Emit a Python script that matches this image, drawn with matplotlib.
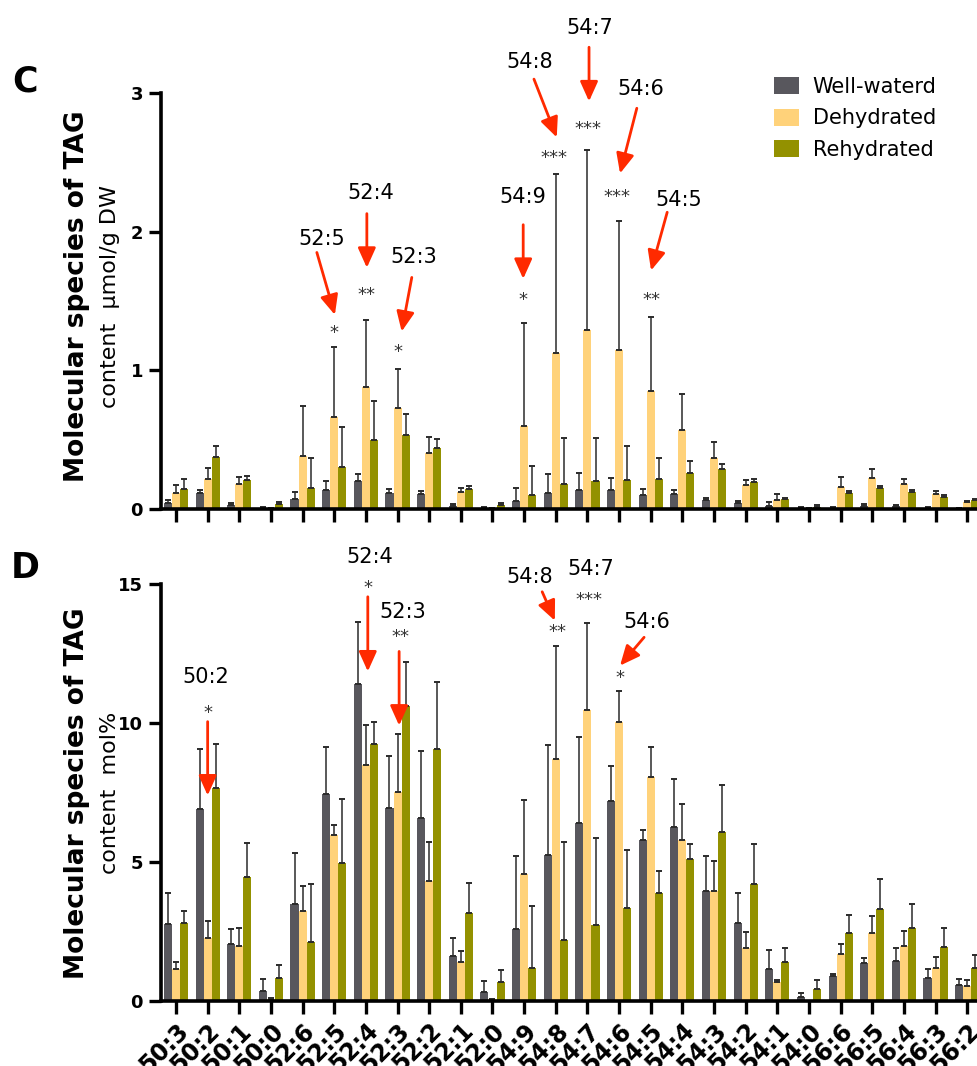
import matplotlib.pyplot as plt
import numpy as np
from matplotlib.patches import Patch

species = ["50:3", "50:2", "50:1", "50:0", "52:6", "52:5", "52:4", "52:3", "52:2",
           "52:1", "52:0", "54:9", "54:8", "54:7", "54:6", "54:5", "54:4", "54:3",
           "54:2", "54:1", "54:0", "56:6", "56:5", "56:4", "56:3", "56:2"]
groups = ["Well-waterd", "Dehydrated", "Rehydrated"]

# panel C: content (umol/g DW), mean and SD
c_well = [0.045, 0.115, 0.03, 0.01, 0.075, 0.14, 0.2, 0.115, 0.11, 0.025, 0.01, 0.06, 0.115,
          0.14, 0.14, 0.1, 0.11, 0.065, 0.045, 0.02, 0.01, 0.01, 0.022, 0.022, 0.01, 0.007]
c_well_sd = [0.02, 0.02, 0.01, 0.006, 0.05, 0.06, 0.05, 0.027, 0.02, 0.009, 0.005, 0.09, 0.14,
             0.12, 0.08, 0.044, 0.024, 0.014, 0.012, 0.028, 0.008, 0.007, 0.014, 0.007, 0.004, 0.003]
c_dehy = [0.115, 0.215, 0.18, 0.004, 0.38, 0.66, 0.88, 0.73, 0.405, 0.123, 0.005, 0.6, 1.125,
          1.29, 1.146, 0.851, 0.57, 0.368, 0.171, 0.065, 0.003, 0.159, 0.224, 0.18, 0.108, 0.053]
c_dehy_sd = [0.055, 0.078, 0.05, 0.006, 0.366, 0.51, 0.486, 0.28, 0.113, 0.028, 0.005, 0.74, 1.29,
             1.30, 0.93, 0.536, 0.26, 0.117, 0.036, 0.041, 0.004, 0.074, 0.067, 0.034, 0.019, 0.005]
c_rehy = [0.146, 0.375, 0.211, 0.036, 0.151, 0.303, 0.497, 0.534, 0.44, 0.144, 0.029, 0.101, 0.18,
          0.202, 0.211, 0.216, 0.26, 0.288, 0.195, 0.07, 0.014, 0.115, 0.151, 0.123, 0.087, 0.065]
c_rehy_sd = [0.068, 0.077, 0.025, 0.012, 0.214, 0.288, 0.279, 0.153, 0.067, 0.024, 0.012, 0.207, 0.332,
             0.312, 0.246, 0.154, 0.088, 0.036, 0.019, 0.007, 0.012, 0.012, 0.017, 0.012, 0.012, 0.008]

# panel D: content (mol%), mean and SD
d_well = [2.75, 6.9, 2.03, 0.34, 3.47, 7.46, 11.42, 6.92, 6.58, 1.6, 0.31, 2.57, 5.23,
          6.41, 7.18, 5.77, 6.24, 3.94, 2.79, 1.13, 0.13, 0.88, 1.35, 1.42, 0.81, 0.57]
d_well_sd = [1.11, 2.17, 0.53, 0.45, 1.85, 1.68, 2.21, 1.89, 2.42, 0.64, 0.4, 2.64, 3.98,
             3.08, 1.27, 0.39, 1.75, 1.25, 1.1, 0.7, 0.15, 0.09, 0.18, 0.49, 0.33, 0.22]
d_dehy = [1.13, 2.25, 1.96, 0.06, 3.22, 5.96, 8.47, 7.5, 4.3, 1.37, 0.05, 4.55, 8.71,
          10.47, 10.05, 8.04, 5.77, 3.94, 1.89, 0.65, 0.0, 1.67, 2.43, 1.96, 1.18, 0.53]
d_dehy_sd = [0.24, 0.63, 0.66, 0.03, 0.89, 0.35, 1.45, 2.12, 1.43, 0.43, 0.02, 2.66, 4.08,
             3.14, 1.12, 1.11, 1.32, 1.1, 0.57, 0.1, 0.0, 0.37, 0.62, 0.56, 0.37, 0.2]
d_rehy = [2.79, 7.66, 4.44, 0.8, 2.1, 4.95, 9.26, 10.62, 9.08, 3.14, 0.67, 1.17, 2.18,
          2.72, 3.33, 3.87, 5.09, 6.06, 4.19, 1.38, 0.41, 2.43, 3.29, 2.61, 1.94, 1.18]
d_rehy_sd = [0.44, 1.6, 1.24, 0.49, 2.11, 2.32, 0.79, 1.57, 2.4, 1.1, 0.44, 2.25, 3.53,
             3.15, 2.11, 0.8, 0.55, 1.69, 1.45, 0.51, 0.32, 0.66, 1.1, 0.87, 0.66, 0.45]

# significance marks: label, label pos, stars, stars pos, arrow (start, end)
c_marks = [
    ("52:5", (4.61, 1.95), "*", (5.0, 1.27), ((4.45, 1.85), (5.02, 1.40))),
    ("52:4", (6.15, 2.28), "**", (6.03, 1.54), ((6.03, 2.13), (6.03, 1.74))),
    ("52:3", (7.52, 1.82), "*", (7.02, 1.13), ((7.45, 1.67), (7.13, 1.28))),
    ("54:9", (10.97, 2.25), "*", (10.97, 1.51), ((10.97, 2.05), (10.97, 1.66))),
    ("54:8", (11.18, 3.22), "***", (11.94, 2.53), ((11.31, 3.10), (12.03, 2.68))),
    ("54:7", (13.08, 3.47), "***", (13.03, 2.74), ((13.05, 3.33), (13.05, 2.94))),
    ("54:6", (14.68, 3.03), "***", (13.94, 2.25), ((14.56, 2.89), (14.03, 2.42))),
    ("54:5", (15.89, 2.23), "**", (15.03, 1.51), ((15.52, 2.14), (15.01, 1.72))),
]
d_marks = [
    ("50:2", (0.95, 11.67), "*", (1.0, 10.35), ((1.0, 10.05), (1.0, 7.39))),
    ("52:4", (6.13, 15.99), "*", (6.08, 14.85), ((6.06, 14.55), (6.06, 11.86))),
    ("52:3", (7.18, 13.99), "**", (7.08, 13.09), ((7.05, 12.58), (7.05, 9.91))),
    ("54:8", (11.16, 15.27), "**", (12.05, 13.29), ((11.57, 14.73), (11.97, 13.69))),
    ("54:7", (13.1, 15.55), "***", (13.05, 14.43), None),
    ("54:6", (14.87, 13.63), "*", (14.03, 11.61), ((14.79, 13.09), (14.03, 12.07))),
]

colors = ["#58575d", "#ffd27a", "#939100"]
W, H = 978, 1066
fig = plt.figure(figsize=(W / 100, H / 100), dpi=100)


def axes_px(left, top, right, bottom):
    return fig.add_axes([left / W, 1 - bottom / H, (right - left) / W, (bottom - top) / H])


def draw_panel(ax, series, ymax, yticks):
    x = np.arange(len(species))
    bw = 0.255
    for i, (mean, sd) in enumerate(series):
        pos = x + (i - 1) * bw
        ax.bar(pos, mean, bw, color=colors[i], linewidth=0)
        ax.errorbar(pos, mean, yerr=[np.zeros(len(sd)), sd], fmt="none", ecolor="#2b2b2b",
                    elinewidth=1.1, capsize=2.2, capthick=1.4)
    ax.set_xlim(-0.474, 25.34)
    ax.set_ylim(0, ymax)
    for s in ["top", "right"]:
        ax.spines[s].set_visible(False)
    for s in ["left", "bottom"]:
        ax.spines[s].set_linewidth(2.6)
    ax.set_xticks(x)
    ax.set_yticks(yticks)
    ax.set_yticklabels([str(t) for t in yticks], fontweight="bold", fontsize=13)
    ax.tick_params(direction="out", length=9, width=2.4, pad=4)


def draw_marks(ax, marks):
    for label, lxy, stars, sxy, arrow in marks:
        ax.text(*lxy, label, ha="center", va="center", fontsize=15, clip_on=False)
        ax.text(*sxy, stars, ha="center", va="center", fontsize=13, color="#333333", clip_on=False)
        if arrow:
            ax.annotate("", xy=arrow[1], xytext=arrow[0], annotation_clip=False,
                        arrowprops=dict(arrowstyle="-|>,head_length=1.0,head_width=0.45",
                                        mutation_scale=12, color="#ff2a00", lw=2,
                                        shrinkA=0, shrinkB=0))


ax_c = axes_px(161, 93, 978, 509)
draw_panel(ax_c, [(c_well, c_well_sd), (c_dehy, c_dehy_sd), (c_rehy, c_rehy_sd)], 3, [0, 1, 2, 3])
ax_c.set_xticklabels([])
draw_marks(ax_c, c_marks)

ax_d = axes_px(161, 584.3, 978, 1000.5)
draw_panel(ax_d, [(d_well, d_well_sd), (d_dehy, d_dehy_sd), (d_rehy, d_rehy_sd)], 15, [0, 5, 10, 15])
ax_d.set_xticklabels(species, rotation=45, ha="right", rotation_mode="anchor",
                     fontweight="bold", fontsize=17)
draw_marks(ax_d, d_marks)

# legend
handles = [Patch(facecolor=c, edgecolor="none") for c in colors]
ax_c.legend(handles, groups, loc="upper left", bbox_to_anchor=(774 / W, 1 - 77 / H),
            bbox_transform=fig.transFigure, frameon=False, fontsize=15, borderpad=0,
            borderaxespad=0, handlelength=1.2, handleheight=0.9, handletextpad=0.65,
            labelspacing=0.55)

# y-axis titles and panel letters
fig.text(77 / W, 1 - 296 / H, "Molecular species of TAG", rotation=90, ha="center", va="center",
         fontsize=19, fontweight="bold")
fig.text(110 / W, 1 - 296 / H, "content  \u03bcmol/g DW", rotation=90, ha="center", va="center",
         fontsize=16)
fig.text(77 / W, 1 - 793 / H, "Molecular species of TAG", rotation=90, ha="center", va="center",
         fontsize=19, fontweight="bold")
fig.text(110 / W, 1 - 793 / H, "content  mol%", rotation=90, ha="center", va="center",
         fontsize=16)
fig.text(25 / W, 1 - 81 / H, "C", ha="center", va="center", fontsize=25, fontweight="bold")
fig.text(25 / W, 1 - 568 / H, "D", ha="center", va="center", fontsize=25, fontweight="bold")

fig.savefig("out.png", dpi=100)
